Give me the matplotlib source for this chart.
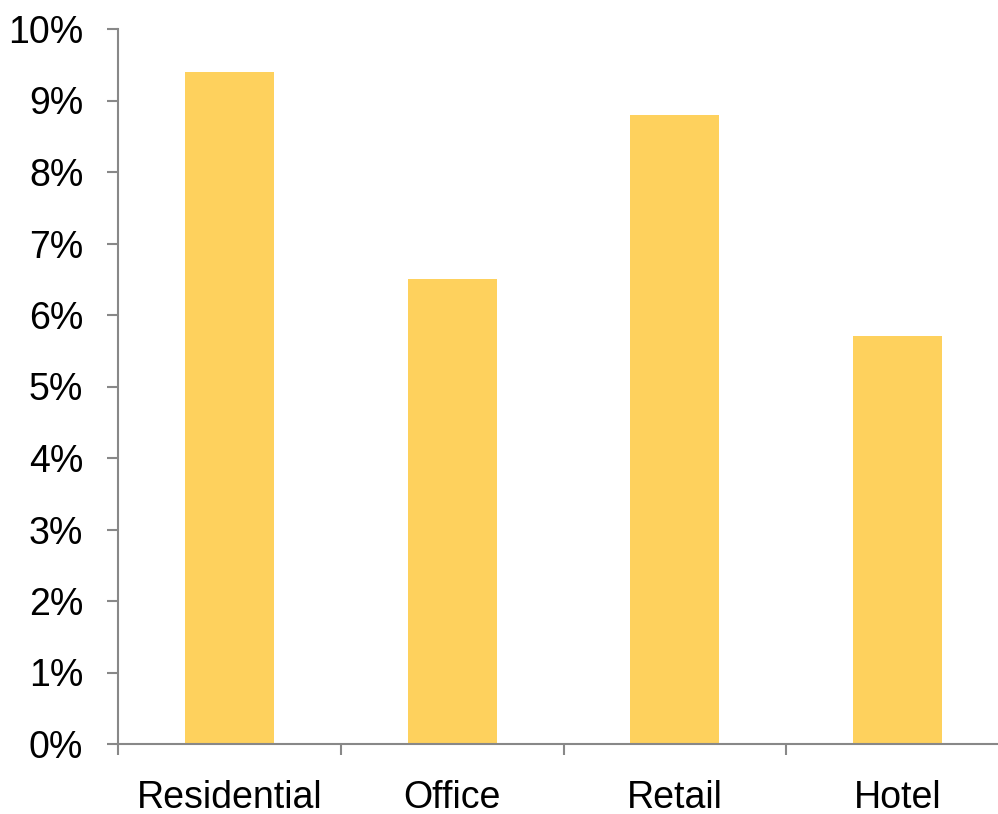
import matplotlib.pyplot as plt
import numpy as np
from matplotlib.ticker import FuncFormatter

# Gegevens uit de grafiek
categories = ["Residential", "Office", "Retail", "Hotel"]
values = [9.4, 6.5, 8.8, 5.7]
y_ticks = list(range(0, 11))

BAR_COLOR = "#FED15D"
AXIS_COLOR = "#888888"

plt.rcParams["font.family"] = ["Liberation Sans", "DejaVu Sans"]

fig = plt.figure(figsize=(9.98, 8.14), dpi=100)
# De as loopt rechts iets buiten het beeld door, net als in het origineel.
ax = fig.add_axes([118 / 998, 70 / 814, 891 / 998, 715 / 814])

x = np.arange(len(categories))
ax.bar(x, values, width=0.4, color=BAR_COLOR)

ax.set_xlim(-0.5, len(categories) - 0.5)
ax.set_ylim(0, 10)
ax.set_yticks(y_ticks)
ax.yaxis.set_major_formatter(FuncFormatter(lambda v, _: f"{v:.0f}%"))

# Tickstreepjes op de grenzen tussen categorieën, labels in het midden.
ax.set_xticks(np.arange(len(categories) + 1) - 0.5)
ax.set_xticklabels([])
ax.set_xticks(x, minor=True)
ax.set_xticklabels(categories, minor=True)
ax.tick_params(axis="x", which="minor", length=0, pad=26, labelsize=27)
ax.tick_params(axis="x", which="major", length=8, width=1.5, color=AXIS_COLOR)
ax.tick_params(axis="y", length=8, width=1.5, color=AXIS_COLOR, pad=17, labelsize=27)

for side in ("top", "right"):
    ax.spines[side].set_visible(False)
for side in ("left", "bottom"):
    ax.spines[side].set_color(AXIS_COLOR)
    ax.spines[side].set_linewidth(1.5)

fig.savefig("out.png", dpi=100)
